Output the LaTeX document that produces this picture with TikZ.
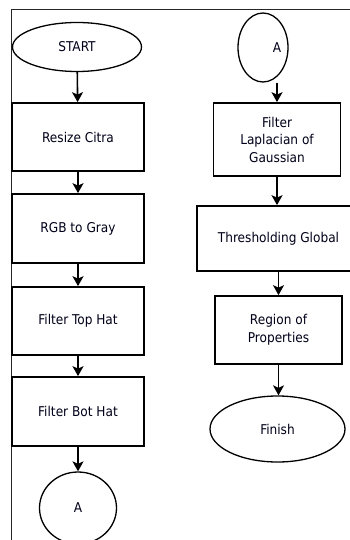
\documentclass[tikz,border=0pt]{standalone}
\usepackage{fontspec}
\setmainfont{DejaVu Sans Condensed}
\usetikzlibrary{shapes.geometric,arrows.meta}

\begin{document}
\begin{tikzpicture}[x=1pt,y=-1pt,
  txt/.style={font=\fontsize{13.5}{17.5}\selectfont, text=black!90!blue, align=center},
  procbox/.style 2 args={draw, line width=1.7pt, rectangle, inner sep=0pt,
    minimum width=#1, minimum height=#2, txt},
  term/.style 2 args={draw, line width=1.3pt, ellipse, inner sep=0pt,
    minimum width=#1, minimum height=#2, txt},
  flow/.style={draw, line width=1.6pt, -{Stealth[length=10pt,width=11pt,inset=2.5pt]}},
  frame/.style={draw, line width=0.9pt, black!85}
]
\useasboundingbox (0,0) rectangle (350,540);
\clip (0,0) rectangle (350,540);

% outer frame (top and left rules)
\coordinate (fTR) at (351,9);
\coordinate (fTL) at (11.5,9);
\coordinate (fBL) at (11.5,541);
\draw[frame] (fTR) -- (fTL) -- (fBL);

% left column
\node[term={129}{49}]        (start)  at (77,47)    {START};
\node[procbox={132}{68}]     (resize) at (78,137)   {Resize Citra};
\node[procbox={132}{69}]     (rgb)    at (78,228.5) {RGB to Gray};
\node[procbox={132}{68}]     (tophat) at (78,321)   {Filter Top Hat};
\node[procbox={132}{69}]     (bothat) at (78,411.5) {Filter Bot Hat};
\node[term={77}{72}]         (conA)   at (78,508)   {A};

% right column
\node[term={50}{69}]         (conB)   at (263,47.5) {};
\node[txt]                   (conBt)  at (277,47.5) {A};
\node[procbox={127}{73}]     (lap)    at (277,139.5) {Filter\\Laplacian of\\Gaussian};
\node[procbox={163}{65}]     (thr)    at (278.5,238.5) {Thresholding Global};
\node[procbox={127}{68}]     (reg)    at (278.5,330) {Region of\\Properties};
\node[term={135}{66}]        (finish) at (277.5,429) {Finish};

% connectors
\draw[flow] (start) -- (resize);
\draw[flow] (resize) -- (rgb);
\draw[flow] (rgb) -- (tophat);
\draw[flow] (tophat) -- (bothat);
\draw[flow] (bothat) -- (conA);

\draw[flow] (lap.north |- conB.south) -- (lap.north);
\draw[flow] (lap.south) -- (lap.south |- thr.north);
\draw[flow] (reg.north |- thr.south) -- (reg.north);
\draw[flow] (reg.south) -- (reg.south |- finish.north);
\end{tikzpicture}
\end{document}
